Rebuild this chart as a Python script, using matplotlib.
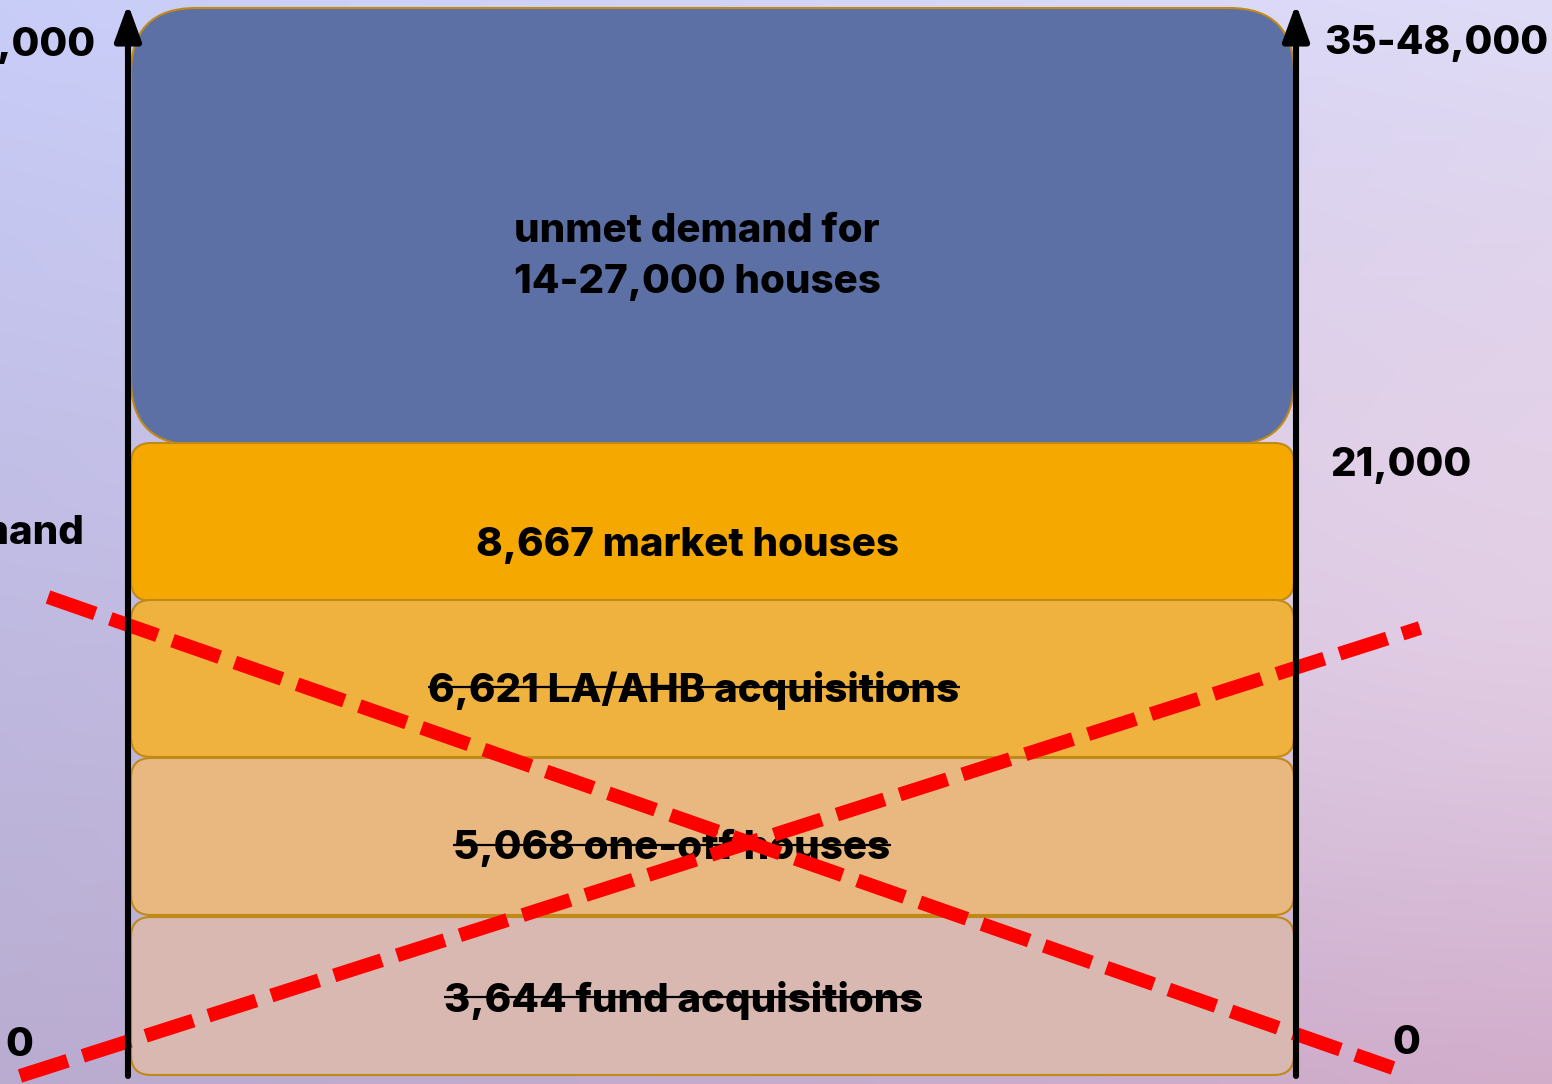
import numpy as np
import matplotlib
matplotlib.use("Agg")
import matplotlib.pyplot as plt
from matplotlib.patches import FancyBboxPatch

# ---- data ----
segment_labels = ["3,644 fund acquisitions", "5,068 one-off houses",
                  "6,621 LA/AHB acquisitions", "8,667 market houses",
                  "unmet demand for\n14-27,000 houses"]
segment_values = [3644, 5068, 6621, 8667, None]
segment_struck = [True, True, True, False, False]
left_labels = ["35-48,000", "demand", "0"]
right_labels = ["35-48,000", "21,000", "0"]

# ---- layout (pixels) ----
W, H = 1552, 1084
box_x0, box_x1 = 131, 1294
box_tops = [917, 758, 600, 443, 8]
box_bottoms = [1075, 915, 757, 601, 445]
box_colors = ["#d8b8b0", "#e8b880", "#f0b23e", "#f5a800", "#5d70a6"]
box_radius = [20, 20, 20, 20, 65]
text_pos = [(683, 1000), (672, 848), (694, 690), (688, 546), (697, 257)]
left_pos = [(95, 45), (85, 533), (33, 1045)]
right_pos = [(1548, 43), (1330, 465), (1392, 1043)]
right_ha = ["right", "left", "left"]

fig = plt.figure(figsize=(W / 100, H / 100), dpi=100)
ax = fig.add_axes([0, 0, 1, 1])
ax.set_xlim(0, W)
ax.set_ylim(H, 0)
ax.axis("off")

# background gradient (bilinear)
tl = np.array([200, 205, 248]) / 255
tr = np.array([222, 220, 248]) / 255
bl = np.array([185, 172, 208]) / 255
br = np.array([208, 170, 200]) / 255
mr = np.array([238, 220, 236]) / 255
yy, xx = np.mgrid[0:1:200j, 0:1:200j]
top = tl[None, None, :] * (1 - xx[..., None]) + tr[None, None, :] * xx[..., None]
bot = bl[None, None, :] * (1 - xx[..., None]) + br[None, None, :] * xx[..., None]
img = top * (1 - yy[..., None]) + bot * yy[..., None]
glow = np.exp(-(((xx - 1.0) / 0.45) ** 2 + ((yy - 0.5) / 0.35) ** 2))[..., None]
img = img * (1 - 0.5 * glow) + mr[None, None, :] * 0.5 * glow
ax.imshow(img, extent=[0, W, H, 0], aspect="auto", zorder=0, interpolation="bilinear")

font = dict(family=["Inter", "DejaVu Sans"], weight="heavy", color="black")
FS = 29

texts = []
for i, lab in enumerate(segment_labels):
    t0, b0 = box_tops[i], box_bottoms[i]
    r = box_radius[i]
    p = FancyBboxPatch((box_x0, t0), box_x1 - box_x0, b0 - t0,
                       boxstyle=f"round,pad=0,rounding_size={r}",
                       facecolor=box_colors[i], edgecolor="#c08a18",
                       linewidth=1.5, zorder=2 + (5 - i) * 0.01)
    ax.add_patch(p)
    x, y = text_pos[i]
    t = ax.text(x, y, lab, ha="center", va="center", fontsize=FS,
                linespacing=1.45, zorder=5, **font)
    texts.append(t)

for lab, (x, y) in zip(left_labels, left_pos):
    ax.text(x, y, lab, ha="right", va="center", fontsize=FS, zorder=5, **font)
for lab, (x, y), ha in zip(right_labels, right_pos, right_ha):
    ax.text(x, y, lab, ha=ha, va="center", fontsize=FS, zorder=5, **font)

# strikethrough
fig.canvas.draw()
renderer = fig.canvas.get_renderer()
inv = ax.transData.inverted()
for t, s in zip(texts, segment_struck):
    if not s:
        continue
    bb = t.get_window_extent(renderer)
    (xa, ya), (xb, yb) = inv.transform([[bb.x0, bb.y0], [bb.x1, bb.y1]])
    ymid = (ya + yb) / 2 - 3
    ax.plot([xa, xb], [ymid, ymid], color="black", lw=1.6, zorder=6,
            solid_capstyle="butt")

# red dashed cross
ax.plot([48, 1393], [597, 1068], color="#ff0000", lw=10,
        linestyle=(0, (3.6, 1.15)), dash_capstyle="butt", zorder=7)
ax.plot([20, 1420], [1076, 628], color="#ff0000", lw=10,
        linestyle=(0, (3.6, 1.15)), dash_capstyle="butt", zorder=7)

# axes arrows
for ax_x in (128, 1296):
    ax.annotate("", xy=(ax_x, 4), xytext=(ax_x, 1076),
                arrowprops=dict(arrowstyle="-|>,head_length=1.1,head_width=0.4",
                                lw=4.4, color="black", shrinkA=0, shrinkB=0,
                                mutation_scale=20),
                zorder=8)

fig.savefig("out.png", dpi=100)
